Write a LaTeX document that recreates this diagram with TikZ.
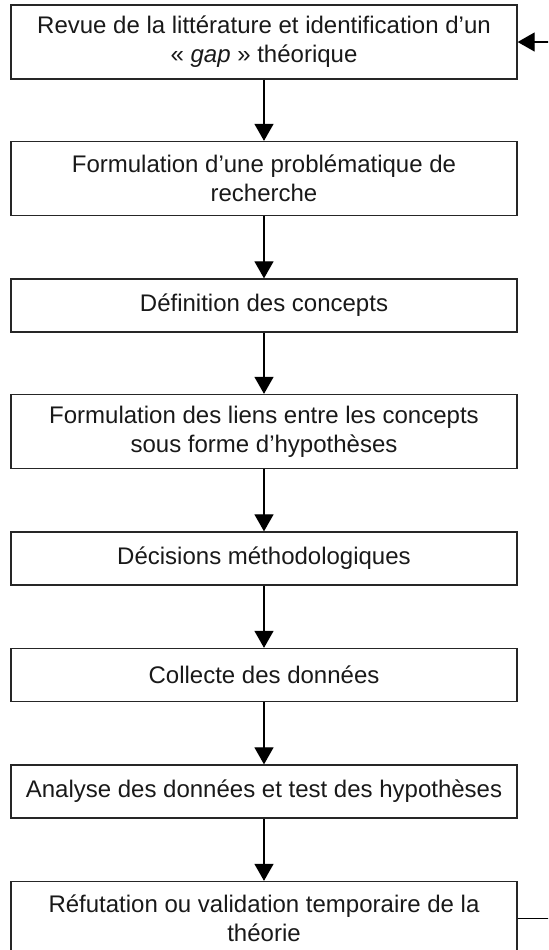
\documentclass[tikz,border=0pt]{standalone}
\usepackage{fontspec}
\setmainfont{Liberation Sans}
\usetikzlibrary{arrows.meta}

\tikzset{
  etape/.style={draw=black!85, line width=0.65pt, minimum width=253pt,
    inner sep=0pt, align=center, text=black!90,
    font=\fontsize{12}{14.5}\selectfont},
  etapehaute/.style={etape, minimum height=37pt},
  etapebasse/.style={etape, minimum height=26.5pt},
  fleche/.style={line width=0.6pt, -{Triangle[length=8.5pt,width=9.5pt]}}
}

\begin{document}
\begin{tikzpicture}[x=0.5pt, y=-0.5pt]
      \clip (0,0) rectangle (548,950);
      \draw
        (264,42) node[etapehaute] (1){Revue de la littérature et identification d’un\\« \textit{gap} » théorique}
        (264,178.5) node[etapehaute] (2){Formulation d’une problématique de\\recherche}
        (264,305.5) node[etapebasse] (3){Définition des concepts}
        (264,431.5) node[etapehaute] (4){Formulation des liens entre les concepts\\sous forme d’hypothèses}
        (264,558.5) node[etapebasse] (5){Décisions méthodologiques}
        (264,675) node[etapebasse] (6){Collecte des données}
        (264,791.5) node[etapebasse] (7){Analyse des données et test des hypothèses}
        (264,918.5) node[etapehaute] (8){Réfutation ou validation temporaire de la\\théorie};
      \begin{scope}[fleche]
        \draw (1) to (2);
        \draw (2) to (3);
        \draw (3) to (4);
        \draw (4) to (5);
        \draw (5) to (6);
        \draw (6) to (7);
        \draw (7) to (8);
        % retour vers la revue de la littérature
        \draw (8.east) -- ++(40,0) |- (1.east);
      \end{scope}
    \end{tikzpicture}
\end{document}
